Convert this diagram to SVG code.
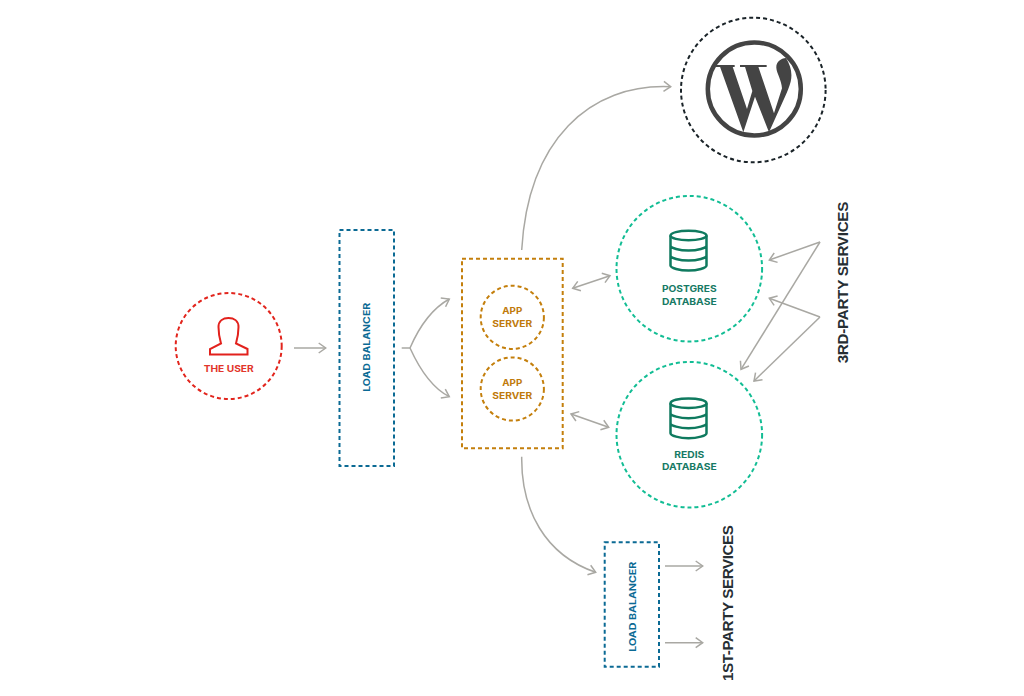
<svg xmlns="http://www.w3.org/2000/svg" width="1024" height="696" viewBox="0 0 1024 696">
  <style>
    .conn { fill: none; stroke: #a9a8a3; stroke-width: 1.5; }
    .dash { fill: none; stroke-width: 2; stroke-dasharray: 4 3; }
    .lbl { font-family: Inter, "Liberation Sans", sans-serif; font-weight: 700; text-anchor: middle; font-size: 9px; }
    .svc { font-family: "Liberation Sans", Arial, sans-serif; font-weight: 700; text-anchor: middle; font-size: 15.2px; fill: #262e33; }
    .red { stroke: #e2251d; } .redt { fill: #e2352b; }
    .blue { stroke: #0b6a94; } .bluet { fill: #0b6a94; }
    .org { stroke: #c47f0c; } .orgt { fill: #c07a0c; }
    .grn { stroke: #12bd94; } .grnt { fill: #177a65; }
    .db { fill: none; stroke: #0f7a5f; stroke-width: 2.5; }
  </style>
  <defs>
    <marker id="arr" markerUnits="userSpaceOnUse" viewBox="-10 -7 12 14" markerWidth="12" markerHeight="14" refX="0" refY="0" orient="auto-start-reverse">
      <path d="M-7,-5 L0,0 L-7,5" fill="none" stroke="#a9a8a3" stroke-width="1.5"/>
    </marker>
    <g id="dbicon">
      <ellipse cx="0" cy="4.5" rx="18" ry="4.8" class="db"/>
      <path class="db" d="M-18 4.5V34.5C-18 37,-9 39.5,0 39.5C9 39.5,18 37,18 34.5V4.5M-18 14.5C-18 17,-9 19.5,0 19.5C9 19.5,18 17,18 14.5M-18 24.5C-18 27,-9 29.5,0 29.5C9 29.5,18 27,18 24.5"/>
    </g>
  </defs>

  <g id="connectors">
    <path class="conn" marker-end="url(#arr)" d="M294 348H325.7"/>
    <path class="conn" d="M401.7 348H410"/>
    <path class="conn" marker-end="url(#arr)" d="M410 348C420 325,433 308,449.3 299"/>
    <path class="conn" marker-end="url(#arr)" d="M410 348C420 370,432 388,449.3 396.7"/>
    <path class="conn" marker-end="url(#arr)" d="M521.7 250C528 140,590 83,670.7 86.7"/>
    <path class="conn" marker-end="url(#arr)" d="M521.7 456.7C521 510,545 555,595.7 572.3"/>
    <path class="conn" marker-start="url(#arr)" marker-end="url(#arr)" d="M572.7 288.3L610 275.7"/>
    <path class="conn" marker-start="url(#arr)" marker-end="url(#arr)" d="M571 414L608.7 427.3"/>
    <path class="conn" marker-end="url(#arr)" d="M820 242L769.3 260"/>
    <path class="conn" marker-end="url(#arr)" d="M820 242L741 369.3"/>
    <path class="conn" marker-end="url(#arr)" d="M820 317L769.3 298.3"/>
    <path class="conn" marker-end="url(#arr)" d="M820 317L754 381"/>
    <path class="conn" marker-end="url(#arr)" d="M665 566H702.7"/>
    <path class="conn" marker-end="url(#arr)" d="M665 642.7H702.7"/>
  </g>

  <g id="wordpress">
    <circle cx="753.3" cy="90" r="72.3" class="dash" stroke="#1a2328"/>
    <circle cx="754.3" cy="89" r="46.5" fill="none" stroke="#444" stroke-width="4.5"/>
    <g transform="translate(700 35) scale(.3333)" fill="#444">
      <rect x="48" y="90" width="56" height="6"/>
      <rect x="120" y="90" width="80" height="6"/>
      <path d="M60 95L98 95L141 222L157 168L135 95L175 95L222 235L246 160C245 135,230 115,229 98C228 82,242 70,258 69C272 92,278 115,272 140C268 155,262 170,255 185L207 292L165 185L130 292Z"/>
    </g>
  </g>

  <g id="the-user">
    <circle cx="228.7" cy="346" r="53" class="dash red"/>
    <path d="M210 354.5V349L221 343.5C220 340,218.5 334,218.5 327C218.5 321,223 318,228.5 318C234 318,238.5 321,238.5 327C238.5 334,237 340,236 343.5L247.5 349V354.5Z" fill="none" stroke="#e2211c" stroke-width="2"/>
    <text x="228.7" y="371.8" class="lbl redt" textLength="50" lengthAdjust="spacingAndGlyphs">THE USER</text>
  </g>

  <g id="load-balancer-1">
    <rect x="339.5" y="230" width="54.5" height="236" class="dash blue"/>
    <text transform="translate(370 347.3) rotate(-90)" class="lbl bluet" textLength="89" lengthAdjust="spacingAndGlyphs">LOAD BALANCER</text>
  </g>

  <g id="app-servers">
    <rect x="462" y="258.7" width="100.7" height="189.6" class="dash org"/>
    <circle cx="512.3" cy="317.3" r="31.6" class="dash org"/>
    <text x="512.3" y="314" class="lbl orgt" textLength="20" lengthAdjust="spacingAndGlyphs">APP</text>
    <text x="512.3" y="327.3" class="lbl orgt" textLength="40" lengthAdjust="spacingAndGlyphs">SERVER</text>
    <circle cx="512.3" cy="389" r="31.6" class="dash org"/>
    <text x="512.3" y="385.7" class="lbl orgt" textLength="20" lengthAdjust="spacingAndGlyphs">APP</text>
    <text x="512.3" y="399" class="lbl orgt" textLength="40" lengthAdjust="spacingAndGlyphs">SERVER</text>
  </g>

  <g id="postgres-database">
    <circle cx="689.3" cy="268.7" r="72.8" class="dash grn"/>
    <use href="#dbicon" x="688.5" y="231"/>
    <text x="689.3" y="292" class="lbl grnt" textLength="54.7" lengthAdjust="spacingAndGlyphs">POSTGRES</text>
    <text x="689.3" y="305.3" class="lbl grnt" textLength="54.7" lengthAdjust="spacingAndGlyphs">DATABASE</text>
  </g>

  <g id="redis-database">
    <circle cx="689.3" cy="434.7" r="72.8" class="dash grn"/>
    <use href="#dbicon" x="688.5" y="398.7"/>
    <text x="689.3" y="457.7" class="lbl grnt" textLength="30" lengthAdjust="spacingAndGlyphs">REDIS</text>
    <text x="689.3" y="470.3" class="lbl grnt" textLength="54.7" lengthAdjust="spacingAndGlyphs">DATABASE</text>
  </g>

  <g id="load-balancer-2">
    <rect x="604.7" y="542.3" width="54.3" height="124.4" class="dash blue"/>
    <text transform="translate(635.5 606.7) rotate(-90)" class="lbl bluet" textLength="90" lengthAdjust="spacingAndGlyphs">LOAD BALANCER</text>
  </g>

  <g id="third-party-services">
    <text transform="translate(848 282.5) rotate(-90)" class="svc" textLength="161.7" lengthAdjust="spacing">3RD-PARTY SERVICES</text>
  </g>
  <g id="first-party-services">
    <text transform="translate(733 603) rotate(-90)" class="svc" textLength="156" lengthAdjust="spacing">1ST-PARTY SERVICES</text>
  </g>
</svg>
